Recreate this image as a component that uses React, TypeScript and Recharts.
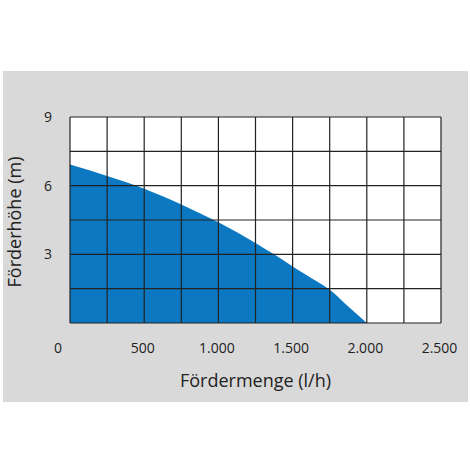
import { AreaChart, Area, XAxis, YAxis, CartesianGrid, ReferenceLine } from 'recharts';

const flowRates = [0, 250, 500, 750, 1000, 1250, 1375, 1500, 1625, 1750, 1875, 2000];
const heads = [6.92, 6.42, 5.87, 5.18, 4.4, 3.5, 3.0, 2.47, 1.97, 1.45, 0.72, 0];

const xTicks = [0, 250, 500, 750, 1000, 1250, 1500, 1750, 2000, 2250, 2500];
const xLabels = ['0', '500', '1.000', '1.500', '2.000', '2.500'];
const yTicks = [0, 1.5, 3, 4.5, 6, 7.5, 9];
const yLabels = ['3', '6', '9'];

const data = flowRates.map((q, i) => ({ q, h: heads[i] }));

const FONT = '"Open Sans", sans-serif';
const INK = '#222';

function XTick(props: any) {
  const { x, y, payload } = props;
  const v = payload.value;
  if (v % 500 !== 0) return null;
  const dx = v === 0 ? -12 : -1.5;
  return (
    <text x={x + dx} y={y + 12} dy="0.71em" textAnchor="middle" fill={INK} fontSize={14} fontFamily={FONT}>
      {xLabels[v / 500]}
    </text>
  );
}

function YTick(props: any) {
  const { y, payload } = props;
  const v = payload.value;
  if (v === 0 || v % 3 !== 0) return null;
  return (
    <text x={48} y={y} dy="0.35em" textAnchor="middle" fill={INK} fontSize={14} fontFamily={FONT}>
      {yLabels[v / 3 - 1]}
    </text>
  );
}

function YLabel(props: any) {
  const { viewBox } = props;
  const cy = viewBox.y + viewBox.height / 2 + 2;
  return (
    <text
      x={15}
      y={cy}
      dy="0.35em"
      transform={`rotate(-90 15 ${cy})`}
      textAnchor="middle"
      fill={INK}
      fontSize={18}
      fontFamily={FONT}
    >
      Förderhöhe (m)
    </text>
  );
}

export default function App() {
  return (
    <div style={{ position: 'absolute', left: 0, top: 0, width: 470, height: 470, background: '#fff' }}>
      <div style={{ position: 'absolute', left: 3, top: 71, width: 465, height: 331, background: '#d9d9d9' }} />
      <div style={{ position: 'absolute', left: 0, top: 0 }}>
        <AreaChart width={470} height={470} data={data} margin={{ top: 117, right: 29, left: 0, bottom: 0 }}>
          <CartesianGrid fill="#fff" stroke="none" horizontal={false} vertical={false} />
          <XAxis
            dataKey="q"
            type="number"
            domain={[0, 2500]}
            ticks={xTicks}
            interval={0}
            height={147}
            axisLine={false}
            tickLine={false}
            tick={<XTick />}
            label={{ value: 'Fördermenge (l/h)', position: 'insideTop', offset: 51, fill: INK, fontSize: 18, fontFamily: FONT }}
          />
          <YAxis
            type="number"
            domain={[0, 9]}
            ticks={yTicks}
            interval={0}
            width={70}
            axisLine={false}
            tickLine={false}
            tick={<YTick />}
            label={<YLabel />}
          />
          <Area
            type="monotoneX"
            dataKey="h"
            stroke="none"
            fill="#0b78c1"
            fillOpacity={1}
            isAnimationActive={false}
          />
          {xTicks.map((t) => (
            <ReferenceLine key={`x${t}`} x={t} stroke={INK} strokeWidth={1.2} />
          ))}
          {yTicks.map((t) => (
            <ReferenceLine key={`y${t}`} y={t} stroke={INK} strokeWidth={1.2} />
          ))}
        </AreaChart>
      </div>
    </div>
  );
}
